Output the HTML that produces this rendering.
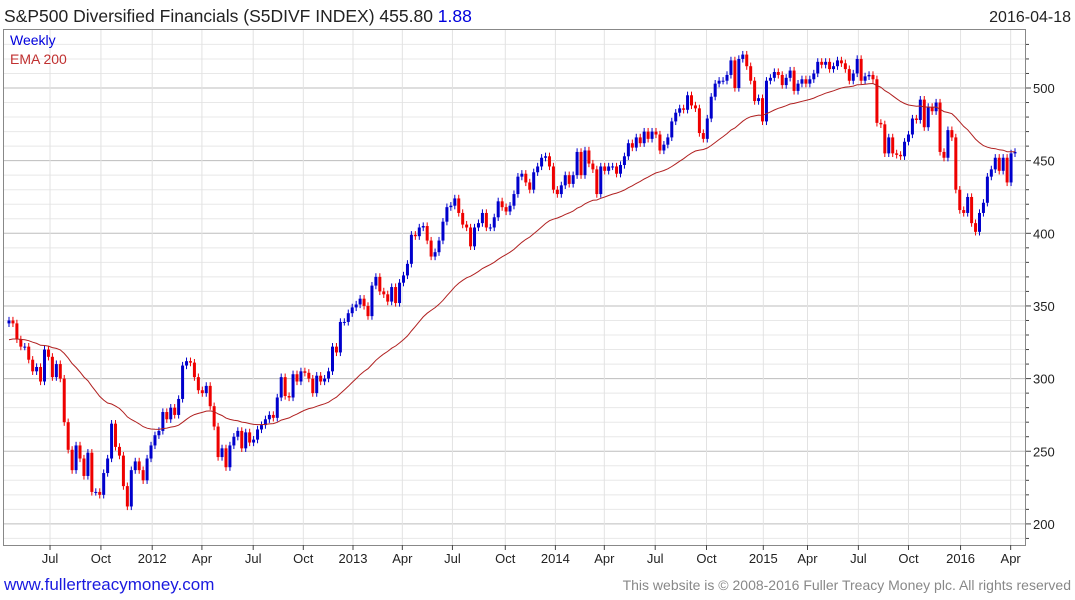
<!DOCTYPE html>
<html><head><meta charset="utf-8">
<style>
body{margin:0;background:#fff;font-family:"Liberation Sans",sans-serif;}
#wrap{position:relative;width:1075px;height:600px;overflow:hidden;}
</style></head>
<body>
<div id="wrap">
<svg id="chart" width="1075" height="600" xmlns="http://www.w3.org/2000/svg">
<text x="4" y="22" font-size="17.5" fill="#222">S&amp;P500 Diversified Financials (S5DIVF INDEX) 455.80 <tspan fill="#0000dd">1.88</tspan></text>
<text x="1071" y="22" font-size="16" fill="#222" text-anchor="end">2016-04-18</text>
<g id="grid"></g>
<g id="candles"></g>
<path id="ema" fill="none" stroke="#b02020" stroke-width="1"/>
<rect x="3.5" y="29.5" width="1022" height="516" fill="none" stroke="#888"/>
<g id="yaxis"></g>
<g id="xaxis"></g>
<text x="10" y="45" font-size="14" fill="#0000dd">Weekly</text>
<text x="10" y="64" font-size="14" fill="#c03030">EMA 200</text>
<text x="4" y="590" font-size="17" fill="#1a1adf">www.fullertreacymoney.com</text>
<text x="1071" y="590" font-size="14" fill="#888" text-anchor="end">This website is © 2008-2016 Fuller Treacy Money plc. All rights reserved</text>
</svg>
</div>
<script>
const closes = [340,338,327,322,322,313,305,308,298,320,315,301,310,300,270,251,237,254,245,233,249,222,222,220,235,245,269,253,247,226,212,237,243,237,230,245,254,261,264,277,272,280,275,286,309,312,311,301,292,290,295,281,267,246,252,239,254,260,264,252,263,256,258,265,268,272,275,273,287,301,288,287,303,298,305,304,300,290,302,298,300,305,
322,318,339,339,345,349,351,355,350,343,364,370,360,358,353,363,352,366,371,379,399,398,404,405,395,384,387,395,408,418,419,424,414,406,404,391,404,407,414,404,404,411,422,418,415,419,427,439,441,435,430,442,446,452,453,446,430,427,433,440,434,440,456,440,457,448,444,427,446,443,446,446,441,447,453,462,459,466,462,470,465,470,468,457,461,466,
477,483,486,485,495,488,486,469,465,479,494,503,505,505,509,519,500,520,523,515,505,491,493,477,505,507,511,509,502,507,512,498,503,506,503,506,510,518,516,518,513,515,519,517,513,505,510,520,505,508,509,506,476,475,455,466,455,454,453,463,468,479,478,492,473,487,484,490,456,452,471,466,430,416,414,425,407,401,414,421,439,444,452,443,452,435,455,456];
const firstOpen = 338;
const emaSeed = 326;
const yTicks = [200,250,300,350,400,450,500];
const xLabels = ["Jul","Oct","2012","Apr","Jul","Oct","2013","Apr","Jul","Oct","2014","Apr","Jul","Oct","2015","Apr","Jul","Oct","2016","Apr"];
const xLabelWeeks = [10.4,23.3,36.3,48.9,61.9,74.6,87.2,99.7,112.4,125.8,138.5,150.9,163.8,176.8,191.2,202.4,215.3,228.0,241.2,253.9];

const NS="http://www.w3.org/2000/svg";
const plotTop=30,plotBot=545;
function yv(v){return 88+(500-v)*1.453;}
const nWeeks=closes.length;
const stepX=(1015-9)/(nWeeks-1);
function xw(i){return 9+i*stepX;}
function mk(tag,attrs,parent){const el=document.createElementNS(NS,tag);for(const k in attrs)el.setAttribute(k,attrs[k]);parent.appendChild(el);return el;}
const grid=document.getElementById('grid');
for(let v=190;v<=530;v+=10){const y=yv(v);if(y<plotTop||y>plotBot)continue;
 const major=v%50===0;
 const l=mk('line',{x1:4,x2:1025,y1:y,y2:y,stroke:major?'#bdbdbd':'#e8e8e8','stroke-width':1},grid);
 
 
 const t=mk('line',{x1:1025,x2:major?1031:1029,y1:y,y2:y,stroke:'#444'},grid);
 
 
}
const ya=document.getElementById('yaxis');
yTicks.forEach(v=>{const t=mk('text',{x:1033,y:yv(v)+5,'font-size':13,fill:'#222'},ya);t.textContent=v;
 
 });
const xa=document.getElementById('xaxis');
xLabels.forEach((s,k)=>{const x=xw(xLabelWeeks[k]);
 const g=mk('line',{x1:x,x2:x,y1:plotTop,y2:plotBot,stroke:'#e2e2e2'},grid);
 
 
 const t=mk('text',{x:x,y:563,'font-size':13,fill:'#222','text-anchor':'middle'},xa);t.textContent=s;
 
 
 const tk=mk('line',{x1:x,x2:x,y1:plotBot,y2:plotBot+5,stroke:'#444'},xa);
 
 
});
const cg=document.getElementById('candles');
let prevClose=firstOpen;
closes.forEach((c,i)=>{const o=prevClose;const x=xw(i);const up=c>=o;const col=up?'#0000cc':'#ee0000';
 const hi=Math.max(o,c)+2.5,lo=Math.min(o,c)-2.5;
 const w=mk('line',{x1:x,x2:x,y1:yv(hi),y2:yv(lo),stroke:col,'stroke-width':1},cg);
 
 
 const y1=yv(Math.max(o,c)),y2=yv(Math.min(o,c));
 const b=mk('rect',{x:x-1.5,y:y1,width:3,height:Math.max(1,y2-y1),fill:col},cg);
 
 
 prevClose=c;});
let emaVal=emaSeed,pathD='';const alpha=2/41;
closes.forEach((c,i)=>{emaVal=emaVal+alpha*(c-emaVal);pathD+=(i?'L':'M')+xw(i).toFixed(1)+','+yv(emaVal).toFixed(1);});
document.getElementById('ema').setAttribute('d',pathD);
</script>
</body></html>
